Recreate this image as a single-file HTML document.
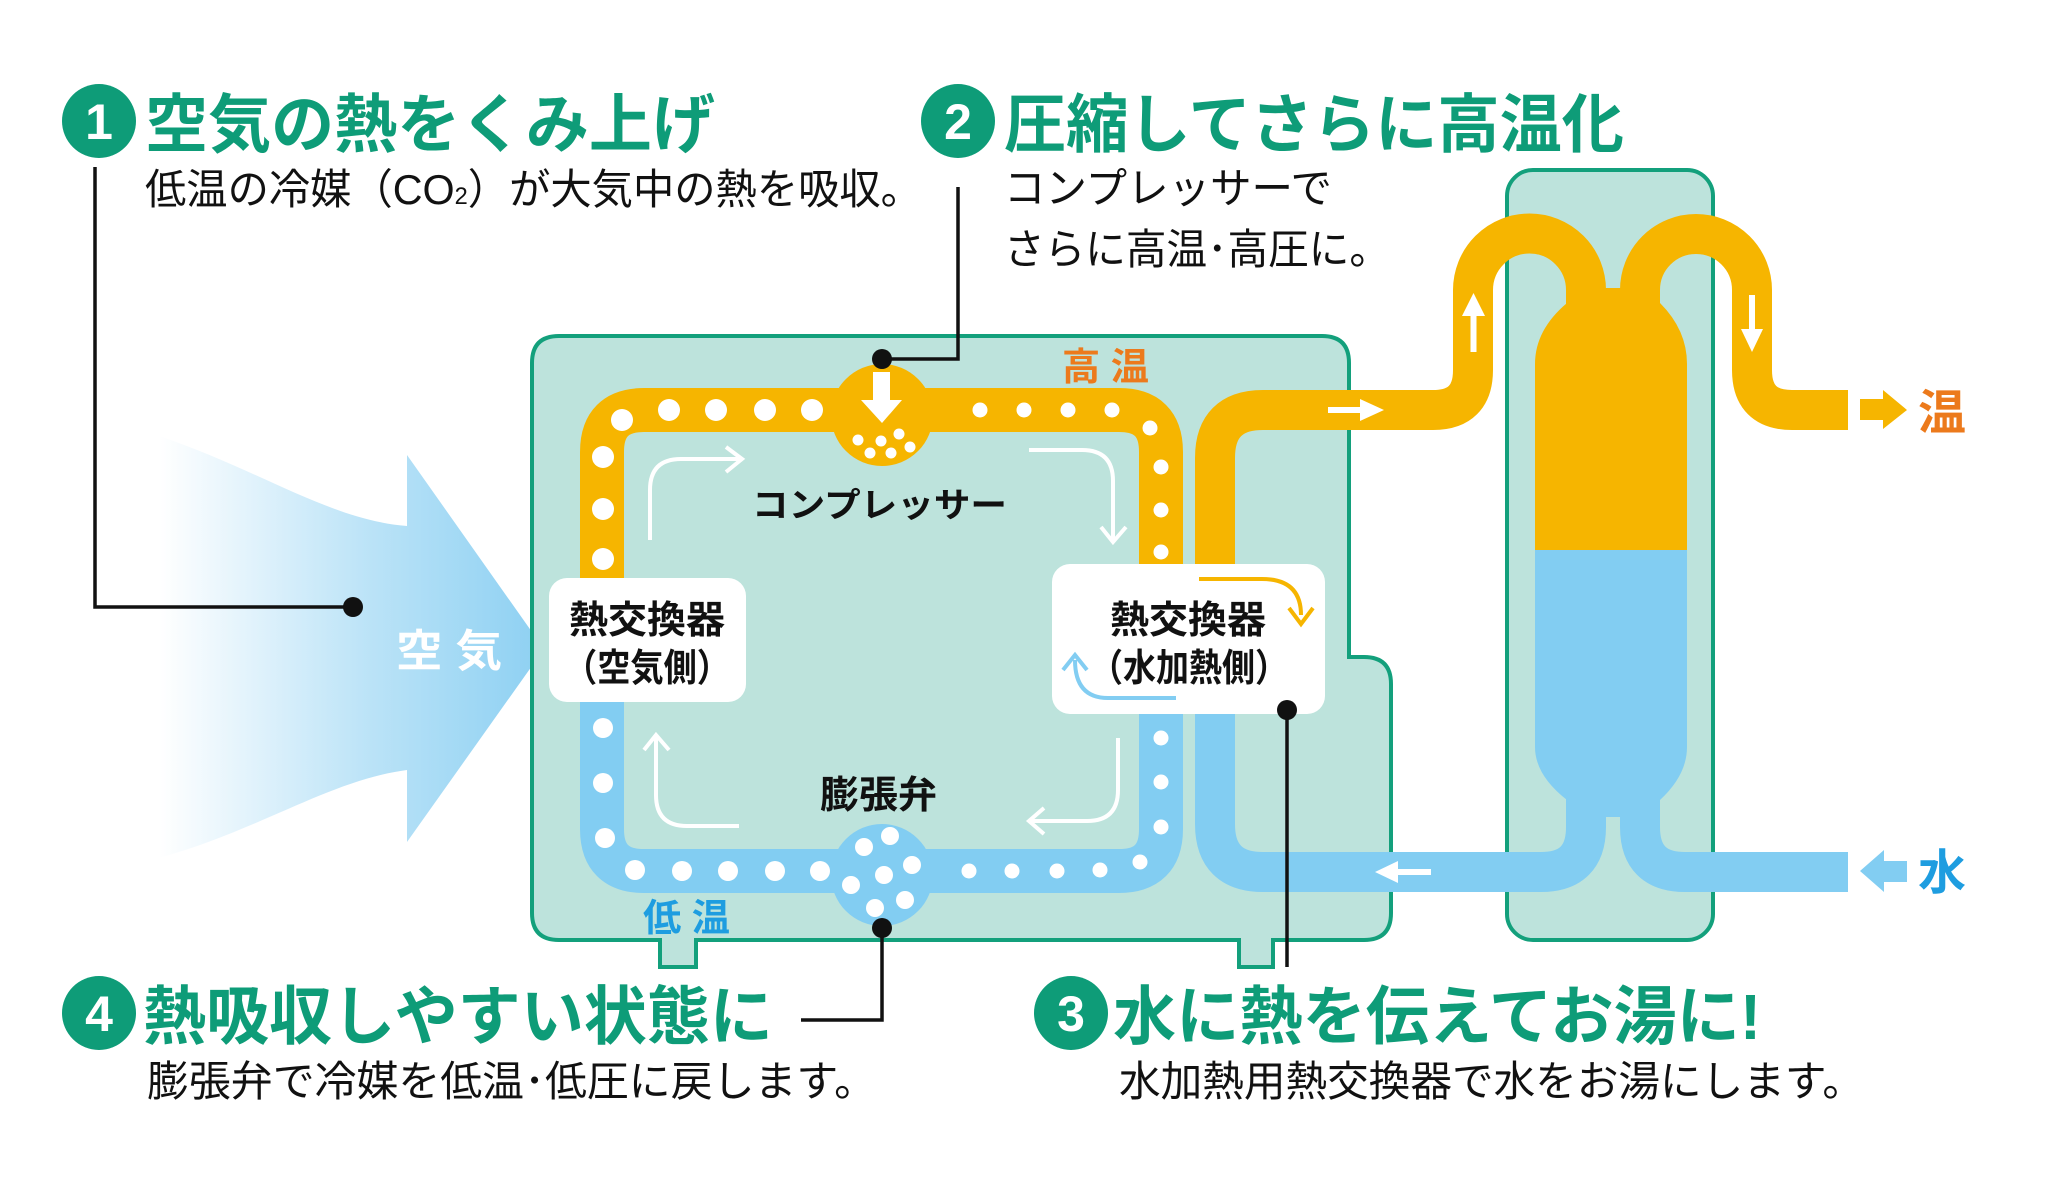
<!DOCTYPE html>
<html><head><meta charset="utf-8"><style>
html,body{margin:0;padding:0;background:#fff}
svg{display:block}
text{font-family:"Liberation Sans","Noto Sans CJK JP",sans-serif}
</style></head><body>
<svg width="2072" height="1190" viewBox="0 0 2072 1190" xmlns="http://www.w3.org/2000/svg">
<defs>
<linearGradient id="air" x1="0" x2="1" y1="0" y2="0">
<stop offset="0" stop-color="#8dd0f2" stop-opacity="0"/>
<stop offset="0.55" stop-color="#8dd0f2" stop-opacity="0.6"/>
<stop offset="1" stop-color="#8dd0f2"/>
</linearGradient>
</defs>
<rect width="2072" height="1190" fill="#fff"/>

<path d="M159 436 C260 470 330 520 407 526 L407 455 L544 649 L407 842 L407 770 C330 780 260 830 159 858 Z" fill="url(#air)"/>
<text x="449" y="666" font-size="44" font-weight="bold" fill="#fff" text-anchor="middle" textLength="106" lengthAdjust="spacingAndGlyphs">空 気</text>

<path d="M559 336 H1322 Q1349 336 1349 363 V657 H1364 Q1391 657 1391 684 V913 Q1391 940 1364 940 H1273 V967 H1239 V940 H696 V967 H660 V940 H559 Q532 940 532 913 V363 Q532 336 559 336 Z" fill="#bde3dc" stroke="#13a07c" stroke-width="4"/>
<rect x="662" y="930" width="32" height="20" fill="#bde3dc"/>
<rect x="1241" y="930" width="30" height="20" fill="#bde3dc"/>
<rect x="1507" y="170" width="206" height="770" rx="26" fill="#bde3dc" stroke="#13a07c" stroke-width="4"/>

<path d="M602 600 V452 Q602 410 644 410 H1119 Q1161 410 1161 452 V600" fill="none" stroke="#f6b500" stroke-width="44"/>
<path d="M602 640 V829 Q602 871 644 871 H1119 Q1161 871 1161 829 V680" fill="none" stroke="#82cdf2" stroke-width="44"/>
<circle cx="882" cy="415" r="51" fill="#f6b500"/>
<circle cx="882" cy="875" r="51" fill="#82cdf2"/>

<path d="M1215 600 V458 Q1215 410 1263 410 H1433 Q1473 410 1473 370 V290 A56.5 56.5 0 0 1 1586 290 V310" fill="none" stroke="#f6b500" stroke-width="40"/>
<path d="M1640 310 V290 A56 56 0 0 1 1752 290 V370 Q1752 410 1792 410 H1848" fill="none" stroke="#f6b500" stroke-width="40"/>
<path d="M1215 690 V824 Q1215 872 1263 872 H1541 Q1586 872 1586 827 V790" fill="none" stroke="#82cdf2" stroke-width="40"/>
<path d="M1640 790 V827 Q1640 872 1685 872 H1848" fill="none" stroke="#82cdf2" stroke-width="40"/>
<path d="M1567 303 H1660 Q1687 330 1687 364 V550 H1535 V364 Q1535 330 1567 303 Z" fill="#f6b500"/>
<rect x="1600" y="288" width="24" height="20" fill="#f6b500"/>
<path d="M1535 550 H1687 V747 Q1687 775 1660 800 H1567 Q1535 775 1535 747 Z" fill="#82cdf2"/>
<rect x="1600" y="795" width="24" height="22" fill="#82cdf2"/>

<g fill="#fff">
<rect x="1328" y="407" width="35" height="6"/><polygon points="1360,399 1384,410 1360,421"/>
<rect x="1470.5" y="312" width="6" height="40"/><polygon points="1462,316 1473.5,293 1485,316"/>
<rect x="1749" y="295" width="6" height="38"/><polygon points="1741,329 1752,352 1763,329"/>
<rect x="1395" y="869" width="36" height="6"/><polygon points="1398,861 1375,872 1398,883"/>
</g>
<polygon points="1860,399 1883,399 1883,390 1907,410 1883,429 1883,420 1860,420" fill="#f6b500"/>
<polygon points="1907,861 1884,861 1884,850 1860,871 1884,892 1884,882 1907,882" fill="#82cdf2"/>
<text x="1942" y="429" font-size="48" font-weight="bold" fill="#ec7a1c" text-anchor="middle">温</text>
<text x="1942" y="889" font-size="48" font-weight="bold" fill="#1e9de0" text-anchor="middle">水</text>

<g fill="#fff">
<circle cx="622" cy="420" r="11"/><circle cx="669" cy="410" r="11"/><circle cx="716" cy="410" r="11"/><circle cx="765" cy="410" r="11"/><circle cx="812" cy="410" r="11"/>
<circle cx="603" cy="457" r="11"/><circle cx="603" cy="509" r="11"/><circle cx="603" cy="559" r="11"/>
<circle cx="980" cy="410" r="7.5"/><circle cx="1024" cy="410" r="7.5"/><circle cx="1068" cy="410" r="7.5"/><circle cx="1112" cy="410" r="7.5"/><circle cx="1150" cy="428" r="7.5"/><circle cx="1161" cy="467" r="7.5"/><circle cx="1161" cy="510" r="7.5"/><circle cx="1161" cy="552" r="7.5"/>
<circle cx="603" cy="728" r="10"/><circle cx="603" cy="783" r="10"/><circle cx="605" cy="838" r="10"/><circle cx="635" cy="870" r="10"/><circle cx="682" cy="871" r="10"/><circle cx="728" cy="871" r="10"/><circle cx="775" cy="871" r="10"/><circle cx="820" cy="871" r="10"/>
<circle cx="969" cy="871" r="7.5"/><circle cx="1012" cy="871" r="7.5"/><circle cx="1057" cy="871" r="7.5"/><circle cx="1100" cy="870" r="7.5"/><circle cx="1140" cy="862" r="7.5"/><circle cx="1161" cy="827" r="7.5"/><circle cx="1161" cy="782" r="7.5"/><circle cx="1161" cy="738" r="7.5"/>
<circle cx="858" cy="440" r="5.5"/><circle cx="881" cy="441" r="5.5"/><circle cx="899" cy="434" r="5.5"/><circle cx="870" cy="453" r="5.5"/><circle cx="891" cy="453" r="5.5"/><circle cx="910" cy="447" r="5.5"/>
<circle cx="890" cy="836" r="9"/><circle cx="864" cy="847" r="9"/><circle cx="912" cy="865" r="9"/><circle cx="884" cy="875" r="9"/><circle cx="851" cy="885" r="9"/><circle cx="905" cy="900" r="9"/><circle cx="875" cy="908" r="9"/>
<rect x="873" y="372" width="17" height="28"/><polygon points="861,400 902,400 882,423"/>
</g>

<g fill="none" stroke="#fff" stroke-width="4">
<path d="M650 540 V490 Q650 459 681 459 H740"/><path d="M726 447 L742 459 L726 472"/>
<path d="M1029 450 H1082 Q1113 450 1113 481 V540"/><path d="M1101 527 L1113 542 L1126 527"/>
<path d="M1118 738 V790 Q1118 821 1087 821 H1030"/><path d="M1044 808 L1029 821 L1044 834"/>
<path d="M739 826 H687 Q656 826 656 795 V737"/><path d="M644 750 L656 735 L669 750"/>
</g>

<rect x="549" y="578" width="197" height="124" rx="18" fill="#fff"/>
<rect x="1052" y="564" width="273" height="150" rx="18" fill="#fff"/>
<path d="M1199 579 H1262 Q1301 579 1301 615" fill="none" stroke="#f6b500" stroke-width="4"/>
<path d="M1289 608 L1301 624 L1313 608" fill="none" stroke="#f6b500" stroke-width="4"/>
<path d="M1176 698 H1108 Q1075 698 1075 660" fill="none" stroke="#82cdf2" stroke-width="4"/>
<path d="M1063 670 L1075 655 L1087 670" fill="none" stroke="#82cdf2" stroke-width="4"/>

<g font-weight="bold" fill="#111">
<text x="569" y="633" font-size="38" textLength="156" lengthAdjust="spacingAndGlyphs">熱交換器</text>
<text x="564" y="681" font-size="38" textLength="166" lengthAdjust="spacingAndGlyphs">（空気側）</text>
<text x="1110" y="633" font-size="38" textLength="156" lengthAdjust="spacingAndGlyphs">熱交換器</text>
<text x="1090" y="681" font-size="38" textLength="198" lengthAdjust="spacingAndGlyphs">（水加熱側）</text>
<text x="752" y="517" font-size="34" textLength="255" lengthAdjust="spacingAndGlyphs">コンプレッサー</text>
<text x="820" y="808" font-size="38" textLength="117" lengthAdjust="spacingAndGlyphs">膨張弁</text>
</g>
<text x="1062" y="380" font-size="38" font-weight="bold" fill="#ec7a1c" textLength="87" lengthAdjust="spacingAndGlyphs">高 温</text>
<text x="643" y="931" font-size="38" font-weight="bold" fill="#1e9de0" textLength="87" lengthAdjust="spacingAndGlyphs">低 温</text>

<g fill="none" stroke="#111" stroke-width="3.5">
<path d="M95 167 V607 H353"/>
<path d="M958 187 V359 H882"/>
<path d="M882 928 V1020 H801"/>
<path d="M1287 710 V967"/>
</g>
<g fill="#111">
<circle cx="353" cy="607" r="10"/><circle cx="882" cy="359" r="10"/><circle cx="882" cy="928" r="10"/><circle cx="1287" cy="710" r="10"/>
</g>

<g fill="#0e9c78">
<circle cx="99" cy="121" r="37"/><circle cx="958" cy="121" r="37"/>
<circle cx="99" cy="1013" r="37"/><circle cx="1071" cy="1013" r="37"/>
</g>
<g fill="#fff" font-weight="bold" font-size="50" text-anchor="middle">
<text x="99" y="139">1</text><text x="958" y="139">2</text>
<text x="99" y="1031">4</text><text x="1071" y="1031">3</text>
</g>
<g fill="#0e9c78" font-weight="bold" font-size="64">
<text x="145" y="147" textLength="570" lengthAdjust="spacingAndGlyphs">空気の熱をくみ上げ</text>
<text x="1004" y="147" textLength="620" lengthAdjust="spacingAndGlyphs">圧縮してさらに高温化</text>
<text x="143" y="1039" textLength="630" lengthAdjust="spacingAndGlyphs">熱吸収しやすい状態に</text>
<text x="1113" y="1039" textLength="648" lengthAdjust="spacingAndGlyphs">水に熱を伝えてお湯に!</text>
</g>
<g fill="#111" font-size="42">
<text x="145" y="204" textLength="777" lengthAdjust="spacingAndGlyphs">低温の冷媒（CO<tspan font-size="24">2</tspan>）が大気中の熱を吸収。</text>
<text x="1004" y="203" textLength="328" lengthAdjust="spacingAndGlyphs">コンプレッサーで</text>
<text x="1004" y="264" textLength="386" lengthAdjust="spacingAndGlyphs">さらに高温･高圧に。</text>
<text x="147" y="1096" textLength="729" lengthAdjust="spacingAndGlyphs">膨張弁で冷媒を低温･低圧に戻します。</text>
<text x="1119" y="1096" textLength="745" lengthAdjust="spacingAndGlyphs">水加熱用熱交換器で水をお湯にします。</text>
</g>
</svg>
</body></html>
